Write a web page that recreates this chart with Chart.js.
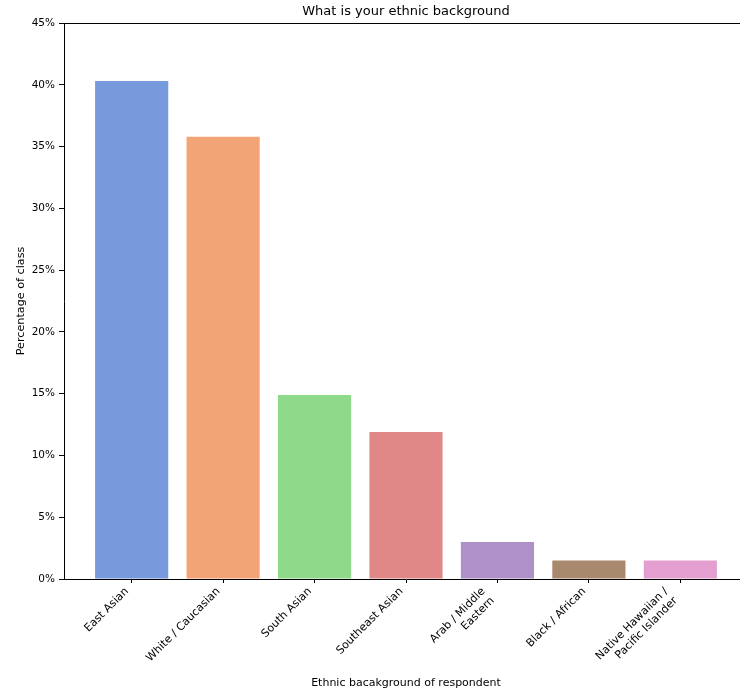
<!DOCTYPE html>
<html><head><meta charset="utf-8">
<script src="https://cdn.jsdelivr.net/npm/chart.js@4.4.1/dist/chart.umd.min.js"></script>
<style>
html,body{margin:0;padding:0;overflow:hidden;background:#fff;width:740px;height:692px}
#wrap{width:760px;height:692px;position:relative}
</style>
</head><body>
<div id="wrap"><canvas id="c" width="760" height="692"></canvas></div>
<script>
// ---- data ----
const categories = [
  ["East Asian"],
  ["White / Caucasian"],
  ["South Asian"],
  ["Southeast Asian"],
  ["Arab / Middle", "Eastern"],
  ["Black / African"],
  ["Native Hawaiian /", "Pacific Islander"]
];
const percentages = [40.3, 35.8, 14.9, 11.9, 3.0, 1.5, 1.5];
const yTickValues = [0, 5, 10, 15, 20, 25, 30, 35, 40, 45];
const barColors = [
  "rgba(72,120,208,0.75)",
  "rgba(238,133,74,0.75)",
  "rgba(106,204,100,0.75)",
  "rgba(214,95,95,0.75)",
  "rgba(149,108,180,0.75)",
  "rgba(140,97,60,0.75)",
  "rgba(220,126,192,0.75)"
];
const titleText = "What is your ethnic background";
const xTitle = "Ethnic bacakground of respondent";
const yTitle = "Percentage of class";

const FONT = "'DejaVu Sans', sans-serif";

// top and right spines
const framePlugin = {
  id: 'frame',
  afterDraw(chart) {
    const { ctx, chartArea: a } = chart;
    ctx.save();
    ctx.strokeStyle = '#000';
    ctx.lineWidth = 1;
    ctx.beginPath();
    ctx.moveTo(a.left, Math.round(a.top) + 0.5);
    ctx.lineTo(a.right, Math.round(a.top) + 0.5);
    ctx.moveTo(Math.round(a.right) + 0.5, a.top);
    ctx.lineTo(Math.round(a.right) + 0.5, a.bottom);
    ctx.stroke();
    ctx.restore();
  }
};

// align rotated tick labels so the right edge of their rotated box sits at the tick
const labelAlignPlugin = {
  id: 'labelAlign',
  beforeDraw(chart) {
    const s = chart.scales.x;
    if (!s || !s.getLabelItems) return;
    const items = s.getLabelItems();
    const k = Math.SQRT1_2;
    items.forEach((it) => {
      if (it._aligned || !it.options || !it.options.translation) return;
      const n = Array.isArray(it.label) ? it.label.length : 1;
      const lh = it.font.lineHeight;
      it.options.translation[0] -= lh / 2 * k + (n - 1) * lh * k;
      it._aligned = true;
    });
  }
};

new Chart(document.getElementById('c'), {
  type: 'bar',
  data: {
    datasets: [{
      data: percentages.map((v, i) => ({ x: i, y: v })),
      backgroundColor: barColors,
      borderWidth: 0,
      barPercentage: 0.8,
      categoryPercentage: 1.0
    }]
  },
  options: {
    responsive: false,
    animation: false,
    devicePixelRatio: 1,
    layout: { padding: { left: 0, right: 12, top: 0, bottom: 0 } },
    plugins: {
      legend: { display: false },
      tooltip: { enabled: false },
      title: {
        display: true,
        fullSize: false,
        text: titleText,
        color: '#000',
        font: { family: FONT, size: 13, weight: 'normal' },
        padding: { top: 4, bottom: 3.4 }
      }
    },
    scales: {
      x: {
        type: 'linear',
        offset: false,
        min: -0.74,
        max: 6.74,
        afterBuildTicks: (axis) => { axis.ticks = categories.map((_, i) => ({ value: i })); },
        afterFit: (axis) => { axis.height = 113; },
        grid: { offset: false, drawOnChartArea: false, drawTicks: true, tickLength: 4, color: '#000', tickColor: '#000' },
        border: { display: true, color: '#000', width: 1 },
        ticks: {
          autoSkip: false,
          maxRotation: 45,
          minRotation: 45,
          color: '#000',
          padding: 2,
          font: { family: FONT, size: 11 },
          callback: (v) => categories[v]
        },
        title: {
          display: true,
          text: xTitle,
          color: '#000',
          font: { family: FONT, size: 11 },
          padding: { top: 4, bottom: 2 }
        }
      },
      y: {
        min: 0,
        max: 45,
        afterBuildTicks: (axis) => { axis.ticks = yTickValues.map(v => ({ value: v })); },
        afterFit: (axis) => { axis.width = 64; },
        grid: { drawOnChartArea: false, drawTicks: true, tickLength: 5, color: '#000', tickColor: '#000' },
        border: { display: true, color: '#000', width: 1 },
        ticks: {
          color: '#000',
          padding: 4,
          font: { family: FONT, size: 10.5 },
          callback: (v) => v + '%'
        },
        title: {
          display: true,
          text: yTitle,
          color: '#000',
          font: { family: FONT, size: 11.2 },
          padding: { top: 14, bottom: 4 }
        }
      }
    }
  },
  plugins: [framePlugin, labelAlignPlugin]
});
</script>
</body></html>
